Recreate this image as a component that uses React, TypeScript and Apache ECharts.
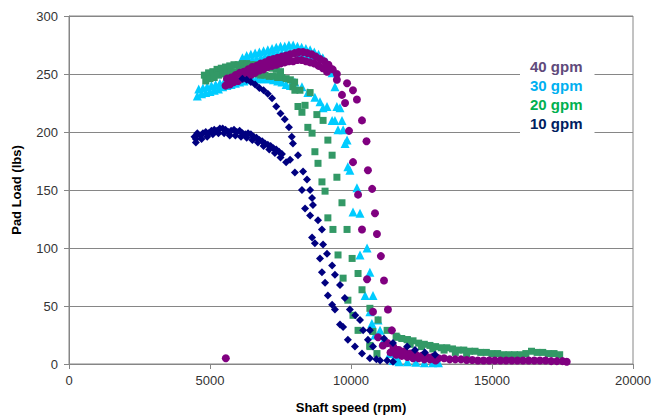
import React, { useEffect, useRef } from 'react';
import * as echarts from 'echarts';

const xTicks = { min: 0, max: 20000, interval: 5000 };
const yTicks = { min: 0, max: 300, interval: 50 };
const legendOrder = ['40 gpm', '30 gpm', '20 gpm', '10 gpm'];

// 10 gpm (rpm, lbs)
const gpm10: [number, number][] = [
  [4450,196],[4500,191],[4550,199],[4650,197],[4750,199],[4850,200],[4950,199],[5050,201],[5150,202],[5250,201],
  [5350,203],[5450,203],[5550,202],[5650,200],[5750,201],[5850,202],[5950,200],[6050,201],[6150,199],[6250,198],
  [6350,199],[6450,198],[6550,196],[6650,195],[6750,193],[6850,192],[6950,190],[7050,189],[7150,188],[7250,186],
  [7350,185],[7450,183],[7550,181],
  [4500,194],[4700,194],[4900,196],[5100,198],[5300,199],[5500,199],[5700,197],[5900,197],[6100,196],[6300,195],
  [6500,193],[6700,191],[6900,188],[7100,185],[7300,182],[7500,178],[7700,174],
  [6150,246],[6300,245],[6450,243],[6600,241],[6750,238],[6900,236],[7050,233],[7200,229],[7350,222],[7500,216],
  [7650,211],[7800,204],[7900,196],
  [7840,176],[8010,165],[8260,150],[8370,134],[8550,128],[8620,109],[8720,104],[8900,91],[8970,79],[9080,70],
  [9180,59],[9330,51],[9430,47],[9610,34],[9720,32],[9890,21],[10140,15],[10390,9],[10670,5],[10900,4],
  [11030,3],[11280,3],[11490,2],
  [7940,190],[8120,180],[8300,166],[8440,159],[8550,150],[8620,143],[8650,137],[8830,124],[8970,116],[9010,103],
  [9150,95],[9330,85],[9430,77],[9610,68],[9780,57],[9960,47],[10150,42],[10320,38],[10430,29],[10600,21],
  [10780,15],[10670,29],[11170,22],[11490,18],[11990,15],[12270,12],[12620,10],[12980,8],
];

// 20 gpm
const gpm20: [number, number][] = [
  [4800,249],[4950,251],[5100,252],[5250,254],[5400,255],[5550,256],[5700,257],[5850,258],[6000,258],[6150,259],
  [6300,259],[6450,258],[6600,258],[6750,257],[6900,257],[7050,256],[7200,255],[7350,254],[7500,252],
  [4850,244],[5000,246],[5150,247],[5300,249],[5450,250],[5600,251],[5750,252],[5900,252],[6050,253],[6200,253],
  [6350,252],[6500,251],[6650,250],[6800,249],[6950,249],[7100,248],[7250,248],[7400,247],[7550,247],[7700,246],
  [7850,245],[8000,243],
  [7940,239],[8120,222],[8260,217],[8470,204],[8620,199],[8720,183],[8830,173],[8970,157],[9080,149],[9180,126],
  [9360,116],[9540,94],[9720,74],[9890,55],[10070,42],[10250,29],[10670,15],[10920,9],
  [8010,236],[8190,236],[8370,223],[8550,234],[8790,215],[9010,210],[9180,193],[9330,180],[9500,161],[9680,139],
  [9860,116],[10040,91],[10250,78],[10390,64],[10670,48],[10780,28],[10670,16],[10960,38],[11280,29],[11630,23],
  [11990,21],
  [11600,24],[11800,22],[12000,21],[12200,20],[12400,18],[12600,17],[12800,16],[13000,15],[13200,14],[13400,14],
  [13600,13],[13800,12],[14000,12],[14200,11],[14400,11],[14600,10],[14800,10],[15000,9],[15200,9],[15400,8],
  [15600,8],[15800,8],[16000,8],[16200,9],[16400,11],[16600,10],[16800,10],[17000,9],[17200,9],[17400,8],
  [12100,17],[12500,15],[12900,13],[13300,12],[13700,10],[14100,9],
];

// 30 gpm
const gpm30: [number, number][] = [
  [6150,264],[6300,266],[6450,267],[6600,268],[6750,269],[6900,270],[7050,271],[7200,272],[7350,273],[7500,274],
  [7650,274],[7800,275],[7950,275],[8100,274],[8250,273],[8400,272],[8550,271],[8700,269],[8850,267],[9000,264],
  [6200,260],[6350,261],[6500,262],[6650,263],[6800,264],[6950,265],[7100,266],[7250,267],[7400,268],[7550,268],
  [7700,269],[7850,269],[8000,269],[8150,268],[8300,267],[8450,266],[8600,265],
  [4550,231],[4700,233],[4850,234],[5000,235],[5150,236],[5300,237],[5450,239],[5600,240],[5750,241],[5900,242],
  [6050,243],[6200,244],[6350,245],[6500,246],[6650,246],[6800,246],[6950,246],[7100,246],[7250,245],[7400,244],
  [7550,243],[7700,241],
  [4600,237],[4750,238],[4900,239],[5050,240],[5200,241],[5350,242],[5500,243],[5650,244],
  [9150,260],[9330,251],[9430,239],[9500,222],[9610,221],[9680,210],[9720,202],[9860,193],[9960,167],[10210,152],
  [10320,130],[10570,100],[10670,79],[10780,59],[10960,38],[11030,29],[11130,19],[11380,9],[11630,5],
  [7850,240],[8010,243],[8260,239],[8470,234],[8720,230],[8900,226],[9150,222],[9010,221],[9330,210],[9430,210],
  [9540,202],[9790,190],[9890,170],[10070,131],[10320,94],[10500,59],[10670,45],[10740,35],[10850,25],
  [11490,3],[11700,2],[12000,2],[12300,1.5],[12600,1],[12900,1],[13100,1],
];

// 40 gpm
const gpm40: [number, number][] = [
  [5550,240],[5700,241],[5850,243],[6000,244],[6150,246],[6300,248],[6450,249],[6600,251],[6750,253],[6900,254],
  [7050,256],[7200,257],[7350,258],[7500,259],[7650,260],[7800,261],[7950,261],[8100,262],[8250,262],[8400,261],
  [8550,260],[8700,259],[8850,257],[9000,255],[9150,252],
  [5600,246],[5750,247],[5900,249],[6050,251],[6200,252],[6350,254],[6500,256],[6650,257],[6800,259],[6950,260],
  [7100,262],[7250,263],[7400,264],[7550,265],[7700,266],[7850,267],[8000,268],[8150,269],[8300,269],[8450,268],
  [8600,267],[8750,265],[8900,263],[9050,261],[9200,258],
  [9350,254],[9500,250],[9860,242],[10070,236],[10210,228],[10390,210],[10550,192],[10600,167],[10750,151],
  [10850,130],[10920,112],[11060,93],[11170,72],[11310,47],[11450,29],[11630,12],
  [9250,255],[9500,245],[9680,232],[9790,225],[9930,201],[10070,174],[10250,146],[10390,116],[10570,73],
  [10780,45],[10960,23],[11130,16],
  [11300,18],[11500,15],[11700,12],[11900,11],[12100,9],[12300,8],[12500,7],[12700,6],[12900,6],[13100,5],
  [13300,5],[13500,4],[13700,4],[13900,4],[14100,3.5],[14300,3.5],[14500,3],[14700,3],[14900,3],[15100,3],
  [15300,3],[15500,3],[15700,3],[15900,3],[16100,3],[16300,3],[16500,3],[16700,3],[16900,3],[17100,2.5],
  [17300,2.5],[17500,2.5],[17650,2],
  [11400,10],[11600,8],[11800,7],[12000,6],[12200,5],[12400,5],[12600,4],[12800,4],[13000,3],
  [5560,5],
];

const FONT = 'Liberation Sans, Arial, sans-serif';

export default function App() {
  const ref = useRef<HTMLDivElement>(null);
  useEffect(() => {
    const chart = echarts.init(ref.current!, null, { renderer: 'svg' });
    chart.setOption({
      animation: false,
      backgroundColor: '#fff',
      grid: { left: 69, right: 23, top: 16, bottom: 56, show: true, borderColor: '#868686', borderWidth: 1 },
      xAxis: {
        type: 'value', ...xTicks,
        name: 'Shaft speed (rpm)', nameLocation: 'middle', nameGap: 37,
        nameTextStyle: { fontFamily: FONT, fontSize: 13, fontWeight: 'bold', color: '#000' },
        axisLine: { lineStyle: { color: '#868686' } },
        axisTick: { show: true, inside: false, length: 5, lineStyle: { color: '#868686' } },
        axisLabel: { fontFamily: FONT, fontSize: 13, color: '#333', margin: 10, formatter: (v: number) => String(v) },
        splitLine: { show: false },
      },
      yAxis: {
        type: 'value', ...yTicks,
        name: 'Pad Load (lbs)', nameLocation: 'middle', nameGap: 46, nameRotate: 90,
        nameTextStyle: { fontFamily: FONT, fontSize: 13, fontWeight: 'bold', color: '#000' },
        axisLine: { show: true, lineStyle: { color: '#868686' } },
        axisTick: { show: true, inside: false, length: 5, lineStyle: { color: '#868686' } },
        axisLabel: { fontFamily: FONT, fontSize: 13, color: '#333', margin: 11 },
        splitLine: { show: true, lineStyle: { color: '#868686', width: 1 } },
      },
      legend: {
        orient: 'vertical', left: 520, top: 52,
        itemWidth: 0, itemHeight: 16, itemGap: 3,
        padding: [6, 12, 6, 5],
        backgroundColor: '#fff',
        selectedMode: false,
        textStyle: { fontFamily: FONT, fontSize: 15, fontWeight: 'bold', lineHeight: 16 },
        data: [
          { name: legendOrder[0], icon: 'rect', textStyle: { color: '#604A7B' } },
          { name: legendOrder[1], icon: 'rect', textStyle: { color: '#00B0F0' } },
          { name: legendOrder[2], icon: 'rect', textStyle: { color: '#00B050' } },
          { name: legendOrder[3], icon: 'rect', textStyle: { color: '#002060' } },
        ],
      },
      series: [
        { name: '30 gpm', type: 'scatter', data: gpm30, symbol: 'triangle', symbolSize: 9, itemStyle: { color: '#00CCFF', opacity: 1 } },
        { name: '20 gpm', type: 'scatter', data: gpm20, symbol: 'rect', symbolSize: 7, itemStyle: { color: '#339966', opacity: 1 } },
        { name: '40 gpm', type: 'scatter', data: gpm40, symbol: 'circle', symbolSize: 8, itemStyle: { color: '#800080', opacity: 1 } },
        { name: '10 gpm', type: 'scatter', data: gpm10, symbol: 'diamond', symbolSize: 8, itemStyle: { color: '#000080', opacity: 1 } },
      ],
    });
    return () => chart.dispose();
  }, []);
  return <div ref={ref} style={{ position: 'fixed', left: 0, top: 0, width: 656, height: 420 }} />;
}
